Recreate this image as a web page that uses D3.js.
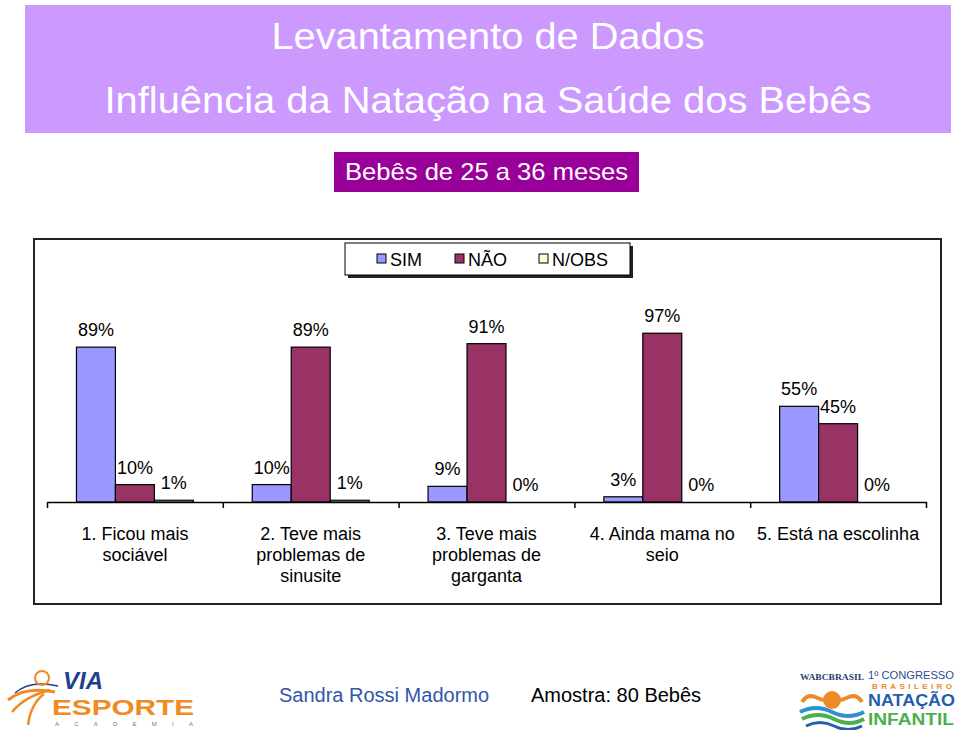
<!DOCTYPE html>
<html>
<head>
<meta charset="utf-8">
<script src="https://cdn.jsdelivr.net/npm/d3@7"></script>
<style>
  html, body { margin: 0; padding: 0; background: #fff; }
  svg { display: block; font-family: "Liberation Sans", Arial, sans-serif; }
</style>
</head>
<body>
<svg id="chart" width="960" height="730"></svg>
<script>
// ---- data ----
const titleLines = ["Levantamento de Dados", "Influência da Natação na Saúde dos Bebês"];
const subtitle = "Bebês de 25 a 36 meses";
const categories = ["1. Ficou mais sociável", "2. Teve mais problemas de sinusite",
  "3. Teve mais problemas de garganta", "4. Ainda mama no seio", "5. Está na escolinha"];
const categoryLines = [
  ["1. Ficou mais", "sociável"],
  ["2. Teve mais", "problemas de", "sinusite"],
  ["3. Teve mais", "problemas de", "garganta"],
  ["4. Ainda mama no", "seio"],
  ["5. Está na escolinha"]
];
const seriesNames = ["SIM", "NÃO", "N/OBS"];
const seriesColors = ["#9999FF", "#993366", "#FFFFCC"];
const simValues = [89, 10, 9, 3, 55];
const naoValues = [10, 89, 91, 97, 45];
const nobsValues = [1, 1, 0, 0, 0];
const footerAuthor = "Sandra Rossi Madormo";
const footerSample = "Amostra: 80 Bebês";

const series = [simValues, naoValues, nobsValues];

const svg = d3.select("#chart");

// ---- title banner ----
svg.append("rect").attr("x", 25).attr("y", 5).attr("width", 926).attr("height", 128).attr("fill", "#CC99FF");
svg.append("text").attr("x", 488).attr("y", 49).attr("text-anchor", "middle")
  .attr("font-size", 37).attr("fill", "#fff")
  .attr("textLength", 433).attr("lengthAdjust", "spacingAndGlyphs").text(titleLines[0]);
svg.append("text").attr("x", 488).attr("y", 113).attr("text-anchor", "middle")
  .attr("font-size", 37).attr("fill", "#fff")
  .attr("textLength", 767).attr("lengthAdjust", "spacingAndGlyphs").text(titleLines[1]);

// subtitle box
svg.append("rect").attr("x", 334).attr("y", 152).attr("width", 305).attr("height", 40).attr("fill", "#990099");
svg.append("text").attr("x", 486.5).attr("y", 180).attr("text-anchor", "middle")
  .attr("font-size", 24).attr("fill", "#fff")
  .attr("textLength", 283).attr("lengthAdjust", "spacingAndGlyphs").text(subtitle);

// ---- chart frame ----
svg.append("rect").attr("x", 34).attr("y", 239).attr("width", 907).attr("height", 365)
  .attr("fill", "#fff").attr("stroke", "#222").attr("stroke-width", 2);

// ---- scales ----
const plotLeft = 47, plotRight = 926, baseY = 502;
const x0 = d3.scaleBand().domain(categories).range([plotLeft, plotRight]).paddingInner(0).paddingOuter(0);
const x1 = d3.scaleBand().domain(seriesNames).range([0, x0.bandwidth()]).paddingInner(0).paddingOuter(0.756);
const y = d3.scaleLinear().domain([0, 100]).range([baseY, baseY - 174]);

// bars
const gBars = svg.append("g");
categories.forEach((c, ci) => {
  seriesNames.forEach((s, si) => {
    const v = series[si][ci];
    const bx = x0(c) + x1(s);
    if (v > 0) {
      gBars.append("rect")
        .attr("x", bx).attr("y", y(v))
        .attr("width", x1.bandwidth()).attr("height", y(0) - y(v))
        .attr("fill", seriesColors[si]).attr("stroke", "#000").attr("stroke-width", 1.2);
    }
    gBars.append("text")
      .attr("x", bx + x1.bandwidth() / 2).attr("y", y(v) - 11)
      .attr("text-anchor", "middle").attr("font-size", 18).attr("fill", "#000")
      .text(v + "%");
  });
});

// x axis with ticks at band boundaries
const xi = d3.scaleLinear().domain([0, categories.length]).range([plotLeft, plotRight]);
const axis = svg.append("g").attr("transform", `translate(0,${baseY})`)
  .call(d3.axisBottom(xi).tickValues(d3.range(0, categories.length + 1)).tickFormat("").tickSize(6).tickSizeOuter(0));
axis.select(".domain").attr("stroke", "#000").attr("stroke-width", 1.5);
axis.selectAll(".tick line").attr("stroke", "#000").attr("stroke-width", 1.5);

// category labels
categories.forEach((c, ci) => {
  const t = svg.append("text").attr("text-anchor", "middle").attr("font-size", 18).attr("fill", "#000");
  categoryLines[ci].forEach((ln, li) => {
    t.append("tspan").attr("x", x0(c) + x0.bandwidth() / 2).attr("y", 540 + li * 21).text(ln);
  });
});

// ---- legend ----
const lg = svg.append("g");
lg.append("rect").attr("x", 348).attr("y", 246).attr("width", 285).attr("height", 32).attr("fill", "#222");
lg.append("rect").attr("x", 345).attr("y", 243).attr("width", 285).attr("height", 32)
  .attr("fill", "#fff").attr("stroke", "#000").attr("stroke-width", 1);
const legX = [377, 455, 539];
seriesNames.forEach((s, i) => {
  lg.append("rect").attr("x", legX[i]).attr("y", 254).attr("width", 9).attr("height", 9)
    .attr("fill", seriesColors[i]).attr("stroke", "#000").attr("stroke-width", 1);
  lg.append("text").attr("x", legX[i] + 13).attr("y", 266).attr("font-size", 18).attr("fill", "#000").text(s);
});

// ---- footer ----
svg.append("text").attr("x", 279).attr("y", 702).attr("font-size", 20).attr("fill", "#3355AA").text(footerAuthor);
svg.append("text").attr("x", 531).attr("y", 702).attr("font-size", 20).attr("fill", "#000").text(footerSample);

// left logo (approximation)
const ll = svg.append("g");
ll.append("path").attr("d", "M8,700 C20,690 35,688 55,692").attr("fill", "none").attr("stroke", "#F08A24").attr("stroke-width", 3);
ll.append("path").attr("d", "M12,712 C22,700 34,694 50,690").attr("fill", "none").attr("stroke", "#F08A24").attr("stroke-width", 2.5);
ll.append("path").attr("d", "M28,725 C30,710 36,700 44,694").attr("fill", "none").attr("stroke", "#F08A24").attr("stroke-width", 2.5);
ll.append("path").attr("d", "M15,693 C25,684 40,682 58,686").attr("fill", "none").attr("stroke", "#1F3F8F").attr("stroke-width", 1.5);
ll.append("circle").attr("cx", 42).attr("cy", 678).attr("r", 7).attr("fill", "none").attr("stroke", "#F08A24").attr("stroke-width", 2);
ll.append("text").attr("x", 63).attr("y", 689).attr("font-size", 24).attr("font-weight", "bold").attr("font-style", "italic")
  .attr("fill", "#1F3F8F").text("VIA");
ll.append("text").attr("x", 52).attr("y", 715).attr("font-size", 22).attr("font-weight", "bold")
  .attr("fill", "#F08A24").attr("textLength", 142).attr("lengthAdjust", "spacingAndGlyphs").text("ESPORTE");
ll.append("text").attr("x", 55).attr("y", 726).attr("font-size", 6).attr("fill", "#777")
  .attr("textLength", 138).attr("lengthAdjust", "spacing").text("ACADEMIA");

// right logo (approximation)
const rl = svg.append("g");
rl.append("text").attr("x", 800).attr("y", 680).attr("font-size", 8).attr("font-family", "Liberation Serif, serif")
  .attr("font-weight", "bold").attr("fill", "#1F3F6F").attr("textLength", 64).attr("lengthAdjust", "spacingAndGlyphs").text("WABCBRASIL");
rl.append("text").attr("x", 868).attr("y", 679).attr("font-size", 11).attr("fill", "#1F4F8F")
  .attr("textLength", 86).attr("lengthAdjust", "spacingAndGlyphs").text("1º CONGRESSO");
rl.append("text").attr("x", 872).attr("y", 689).attr("font-size", 8).attr("font-weight", "bold").attr("fill", "#F08A24")
  .attr("textLength", 80).attr("lengthAdjust", "spacing").text("BRASILEIRO");
rl.append("text").attr("x", 868).attr("y", 706).attr("font-size", 16).attr("font-weight", "bold").attr("fill", "#1F5FAF")
  .attr("textLength", 87).attr("lengthAdjust", "spacingAndGlyphs").text("NATAÇÃO");
rl.append("text").attr("x", 868).attr("y", 725).attr("font-size", 16).attr("font-weight", "bold").attr("fill", "#4CAF50")
  .attr("textLength", 86).attr("lengthAdjust", "spacingAndGlyphs").text("INFANTIL");
rl.append("circle").attr("cx", 832).attr("cy", 700).attr("r", 9).attr("fill", "#F08A24");
rl.append("path").attr("d", "M802,702 C810,690 818,700 824,700 M840,700 C846,700 854,690 862,702")
  .attr("fill", "none").attr("stroke", "#F08A24").attr("stroke-width", 4);
rl.append("path").attr("d", "M800,712 Q816,704 832,712 T864,712").attr("fill", "none").attr("stroke", "#2F8FCF").attr("stroke-width", 4);
rl.append("path").attr("d", "M802,719 Q818,711 834,719 T864,719").attr("fill", "none").attr("stroke", "#4CAF50").attr("stroke-width", 4);
rl.append("path").attr("d", "M806,726 Q820,719 834,726 T862,726").attr("fill", "none").attr("stroke", "#1F5FAF").attr("stroke-width", 3);
</script>
</body>
</html>
